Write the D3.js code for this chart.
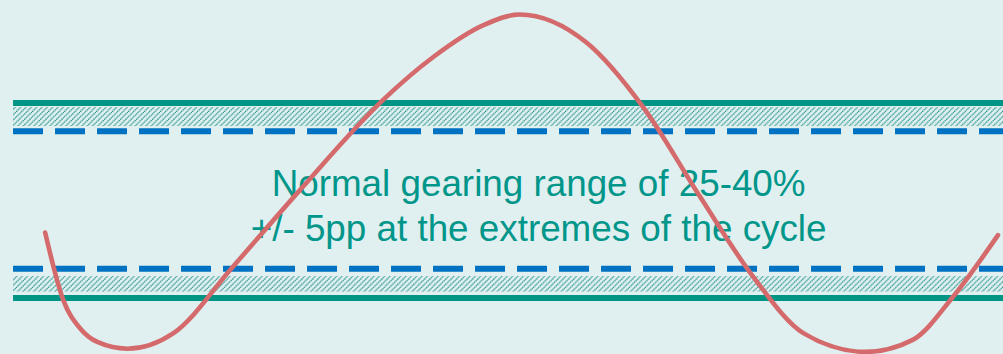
<!DOCTYPE html>
<html>
<head>
<meta charset="utf-8">
<script src="https://cdn.jsdelivr.net/npm/d3@7"></script>
<style>
  html, body { margin: 0; padding: 0; background: #e0f0f0; }
  svg { display: block; }
</style>
</head>
<body>
<svg id="chart" width="1003" height="354"></svg>
<script>
// Schematic gearing cycle: position along the cycle (0-100) and gearing level (0-100)
const cycleX = [4.5, 6.3, 8.0, 9.7, 12.7, 17.3, 23.2, 29.9, 38.2, 43.2, 48.2, 51.8,
                58.5, 64.1, 69.8, 75.1, 80.1, 86.3, 91.0, 95.0, 99.5];
const cycleLevel = [34.3, 15.3, 7.2, 3.4, 1.5, 5.9, 24.6, 46.3, 71.8, 83.9, 92.9, 95.9,
                    87.9, 69.8, 44.4, 21.8, 5.9, 0.6, 4.0, 16.1, 33.6];

// Range boundaries on the same level scale
const outerBounds = [70.9, 15.8];          // +/- 5pp extremes
const normalBounds = [62.9, 24.1];         // normal 25-40% range
const hatchBands = [[64.4, 69.8], [17.6, 22.0]];

const labelLines = ["Normal gearing range of 25-40%", "+/- 5pp at the extremes of the cycle"];

const W = 1003, H = 354;
const svg = d3.select("#chart");

const x = d3.scaleLinear().domain([0, 100]).range([0, W]);
const y = d3.scaleLinear().domain([0, 100]).range([H, 0]);
const bandStart = x(1.3);

svg.append("rect").attr("width", W).attr("height", H).attr("fill", "#e0f0f0");

// Diagonal hatch fill
const hs = 5.33;
const defs = svg.append("defs");
const pat = defs.append("pattern")
  .attr("id", "hatch")
  .attr("patternUnits", "userSpaceOnUse")
  .attr("width", hs).attr("height", hs);
pat.append("path")
  .attr("d", `M0,${hs} L${hs},0 M${-hs / 2},${hs / 2} L${hs / 2},${-hs / 2} M${hs / 2},${hs * 1.5} L${hs * 1.5},${hs / 2}`)
  .attr("stroke", "#1f9087").attr("stroke-width", 1.3)
  .attr("stroke-dasharray", "1.4,0.7");

svg.selectAll("rect.hatch").data(hatchBands).join("rect")
  .attr("class", "hatch")
  .attr("x", bandStart)
  .attr("width", W - bandStart)
  .attr("y", d => y(d[1]))
  .attr("height", d => y(d[0]) - y(d[1]))
  .attr("fill", "url(#hatch)");

svg.selectAll("line.outer").data(outerBounds).join("line")
  .attr("class", "outer")
  .attr("x1", bandStart).attr("x2", W)
  .attr("y1", d => y(d)).attr("y2", d => y(d))
  .attr("stroke", "#009485").attr("stroke-width", 6);

svg.selectAll("line.normal").data(normalBounds).join("line")
  .attr("class", "normal")
  .attr("x1", bandStart).attr("x2", W)
  .attr("y1", d => y(d)).attr("y2", d => y(d))
  .attr("stroke", "#0072c1").attr("stroke-width", 6)
  .attr("stroke-dasharray", "30,12");

// Label
const label = svg.append("text")
  .attr("text-anchor", "middle")
  .attr("fill", "#00968a")
  .attr("font-family", "Liberation Sans, Arial, sans-serif")
  .attr("font-size", 36.8);
label.selectAll("tspan").data(labelLines).join("tspan")
  .attr("x", x(53.7))
  .attr("y", (d, i) => y(44.6) + i * 44.7)
  .text(d => d);

// Cycle curve
const line = d3.line()
  .x((d, i) => x(cycleX[i]))
  .y(d => y(d))
  .curve(d3.curveMonotoneX);

svg.append("path")
  .attr("d", line(cycleLevel))
  .attr("fill", "none")
  .attr("stroke", "#d46a6b")
  .attr("stroke-width", 4.6)
  .attr("stroke-linecap", "round");
</script>
</body>
</html>
